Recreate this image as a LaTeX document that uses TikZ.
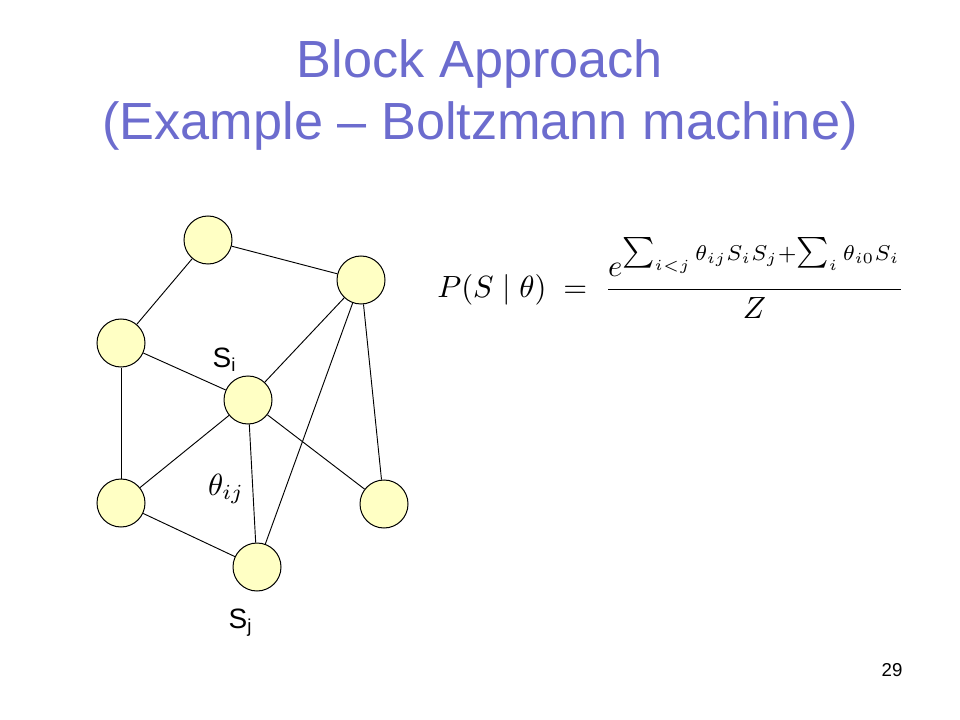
\documentclass[tikz,border=0pt]{standalone}
\usepackage{amsmath}
\usepackage{graphicx}
\usepackage[no-math]{fontspec}
\setmainfont{Liberation Sans}
\definecolor{titleblue}{RGB}{108,108,206}
\definecolor{unitfill}{RGB}{255,255,196}
\newcommand{\bigsum}{\mathop{\textstyle\sum}\nolimits}

\begin{document}
\begin{tikzpicture}[x=0.75pt,y=-0.75pt,
  unit/.style={circle,draw,line width=0.75pt,fill=unitfill,minimum size=36pt,inner sep=0pt},
  link/.style={line width=0.7pt}]

\useasboundingbox (0,0) rectangle (960,720);

\node[anchor=base,text=titleblue] (title1) at (480,78) {\fontsize{39.2}{47}\selectfont Block Approach};
\node[anchor=base,text=titleblue] (title2) at (480,140) {\fontsize{39.2}{47}\selectfont (Example -- Boltzmann machine)};

\node[unit] (top) at (208,240) {};
\node[unit] (upright) at (361,280) {};
\node[unit] (left) at (121,343) {};
\node[unit] (si) at (248,400) {};
\node[unit] (lowleft) at (121,503) {};
\node[unit] (lowright) at (384,504) {};
\node[unit] (sj) at (257,567) {};

\draw[link] (top) -- (left);
\draw[link] (top) -- (upright);
\draw[link] (left) -- (si);
\draw[link] (left) -- (lowleft);
\draw[link] (upright) -- (si);
\draw[link] (upright) -- (sj);
\draw[link] (upright) -- (lowright);
\draw[link] (si) -- (lowleft);
\draw[link] (si) -- (sj);
\draw[link] (si) -- (lowright);
\draw[link] (lowleft) -- (sj);

\node[anchor=base] (silabel) at (224,367) {\fontsize{21}{25}\selectfont S\raisebox{-3pt}{\fontsize{14}{16}\selectfont i}};
\node[anchor=base] (sjlabel) at (240,628) {\fontsize{21}{25}\selectfont S\raisebox{-3pt}{\fontsize{14}{16}\selectfont j}};
\node[anchor=base] (theta) at (226,495) {\scalebox{2.3}{$\theta_{ij}$}};

\node (prob) at (671,278) {\scalebox{2.3}{$P(S\;|\;\theta)\;=\;\dfrac{e^{\bigsum_{i<j}\theta_{ij}S_iS_j+\bigsum_i\theta_{i0}S_i}}{Z}$}};

\node (page) at (892,670) {\fontsize{14}{16}\selectfont 29};

\end{tikzpicture}
\end{document}
